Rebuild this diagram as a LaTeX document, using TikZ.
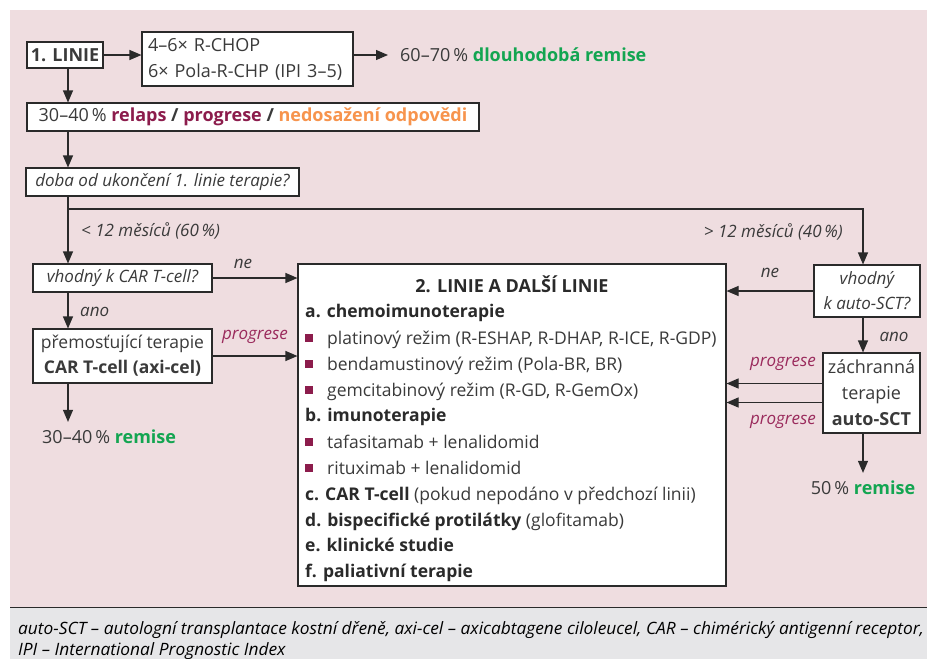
\documentclass[tikz,border=0pt]{standalone}
\usepackage{fontspec}
\setmainfont{Open Sans}
\usetikzlibrary{arrows.meta,calc}
\definecolor{bgpink}{HTML}{EFDDE0}
\definecolor{footgray}{HTML}{E6E6E8}
\definecolor{maroon}{HTML}{8C1C4C}
\definecolor{prog}{HTML}{9A2A5C}
\definecolor{orng}{HTML}{F7944D}
\definecolor{grn}{HTML}{13A551}
\definecolor{txt}{HTML}{3A3A3A}
\definecolor{foottxt}{HTML}{4A4A4A}
\definecolor{linec}{HTML}{2A2A2A}
\newcommand{\grn}[1]{\textcolor{grn}{\textbf{#1}}}
\newsavebox\footlineA
\newsavebox\footlineB
\begin{document}
\sbox\footlineA{\fontsize{17}{20}\selectfont\itshape auto-SCT – autologní transplantace kostní dřeně, axi-cel – axicabtagene ciloleucel, CAR – chimérický antigenní receptor,}%
\sbox\footlineB{\fontsize{17}{20}\selectfont\itshape IPI – International Prognostic Index}%
\pgfmathsetmacro\fsc{906/\wd\footlineA}%
\begin{tikzpicture}[x=1pt,y=-1pt,
  font=\fontsize{18}{25}\selectfont,
  box/.style={draw=linec, fill=white, line width=1.1pt, inner sep=0pt, text=txt, align=center},
  itbox/.style={box, font=\fontsize{17}{25}\selectfont\itshape},
  arr/.style={draw=linec, line width=1.1pt, -{Triangle[length=12pt,width=10pt]}},
  lbl/.style={inner sep=0pt, text=txt, font=\fontsize{17}{20}\selectfont\itshape},
  plbl/.style={inner sep=0pt, text=prog, font=\fontsize{17}{20}\selectfont\itshape},
  item/.style={anchor=base west, inner sep=0pt, text=txt, font=\fontsize{17.5}{20}\selectfont},
  bul/.style={fill=maroon, inner sep=0pt, minimum size=8pt},
  res/.style={inner sep=0pt, text=txt}]
\useasboundingbox (0,0) rectangle (927,659);
\fill[bgpink] (10,10) rectangle (927,607);
\fill[footgray] (10,607) rectangle (927,659);
\draw[linec, line width=1pt] (10,607) -- (927,607);

\coordinate (lx) at (68,0);
\coordinate (rx) at (863,0);

% first line
\node[box, minimum width=76pt, minimum height=26pt, font=\fontsize{18}{20}\selectfont\bfseries] (linie1) at (65,55) {1. LINIE};
\node[box, text width=199pt, inner xsep=6pt, minimum height=54pt, align=left, font=\fontsize{18}{26}\selectfont] (rchop) at (247.5,59) {4–6× R-CHOP\\6× Pola-R-CHP (IPI 3–5)};
\node[res, anchor=west] (rem1) at (400,55) {60–70\,\% \grn{dlouhodobá remise}};

\node[box, minimum width=452pt, minimum height=28pt] (relaps) at (253,117) {30–40\,\% \textcolor{maroon}{\textbf{relaps}} \textbf{/} \textcolor{maroon}{\textbf{progrese}} \textbf{/} \textcolor{orng}{\textbf{nedosažení odpovědi}}};

\node[itbox, minimum width=273pt, minimum height=28pt] (doba) at (162.5,182) {doba od ukončení 1. linie terapie?};

\node[itbox, minimum width=179pt, minimum height=28pt] (vcar) at (122.5,278) {vhodný k CAR T-cell?};

\node[box, minimum width=179pt, minimum height=54pt, font=\fontsize{17.5}{25}\selectfont] (prem) at (122.5,356) {přemosťující terapie\\\textbf{CAR T-cell (axi-cel)}};

\node[res, anchor=west] (rem2) at (42,437) {30–40\,\% \grn{remise}};

% right column
\node[itbox, minimum width=106pt, minimum height=52pt] (vauto) at (867,291) {vhodný\\k auto-SCT?};
\node[box, minimum width=97pt, minimum height=80pt, font=\fontsize{18}{26}\selectfont] (zach) at (871.5,393) {záchranná\\terapie\\\textbf{auto-SCT}};
\node[res] (rem3) at (863,488) {50\,\% \grn{remise}};

% big box
\node[box, minimum width=428pt, minimum height=322pt] (big) at (512,425) {};
\node[inner sep=0pt, text=linec, font=\fontsize{18}{20}\selectfont\bfseries, anchor=base] (t2) at (512,292) {2. LINIE A DALŠÍ LINIE};
\node[item, text=linec] (la) at (305,317) {\textbf{a. chemoimunoterapie}};
\node[bul] (b1) at (309,338) {};
\node[item] (l1) at (327,344) {platinový režim (R-ESHAP, R-DHAP, R-ICE, R-GDP)};
\node[bul] (b2) at (309,364) {};
\node[item] (l2) at (327,370) {bendamustinový režim (Pola-BR, BR)};
\node[bul] (b3) at (309,390) {};
\node[item] (l3) at (327,396) {gemcitabinový režim (R-GD, R-GemOx)};
\node[item, text=linec] (lb) at (305,421) {\textbf{b. imunoterapie}};
\node[bul] (b4) at (309,442) {};
\node[item] (l4) at (327,448) {tafasitamab + lenalidomid};
\node[bul] (b5) at (309,468) {};
\node[item] (l5) at (327,474) {rituximab + lenalidomid};
\node[item] (lc) at (305,500) {\textcolor{linec}{\textbf{c. CAR T-cell}} (pokud nepodáno v předchozí linii)};
\node[item] (ld) at (305,526) {\textcolor{linec}{\textbf{d. bispecifické protilátky}} (glofitamab)};
\node[item, text=linec] (le) at (305,551) {\textbf{e. klinické studie}};
\node[item, text=linec] (lf) at (305,577) {\textbf{f. paliativní terapie}};

% labels
\node[lbl, anchor=west] (lt12) at (81,231) {< 12 měsíců (60\,\%)};
\node[lbl, anchor=east] (gt12) at (843,232) {> 12 měsíců (40\,\%)};
\node[lbl] (ne1) at (243,264) {ne};
\node[lbl, anchor=west] (ano1) at (80,312) {ano};
\node[plbl] (pr1) at (255,337) {progrese};
\node[lbl] (ne2) at (770,273) {ne};
\node[lbl] (ano2) at (894,337) {ano};
\node[plbl] (pr2) at (783,364) {progrese};
\node[plbl] (pr3) at (783,422) {progrese};

% connectors
\draw[arr] (linie1.east) -- (linie1.east -| rchop.west);
\draw[arr, shorten >=12pt] (rem1.west -| rchop.east) -- (rem1.west);
\draw[arr] (linie1.south -| lx) -- (relaps.north -| lx);
\draw[arr] (relaps.south -| lx) -- (doba.north -| lx);
\draw[arr] (doba.south -| lx) -- (vcar.north -| lx);
\coordinate (br) at (68,209);
\draw[arr] (br) -- (br -| rx) -- (vauto.north -| rx);
\draw[arr] (vcar.south -| lx) -- (prem.north -| lx);
\draw[arr] (vcar.east) -- (vcar.east -| big.west);
\draw[arr] (prem.east) -- (prem.east -| big.west);
\draw[arr, shorten >=8pt] (prem.south -| lx) -- (rem2.north -| lx);
\draw[arr] (vauto.west) -- (vauto.west -| big.east);
\draw[arr] ([yshift=-9.5pt]zach.west) -- ([yshift=-9.5pt]zach.west -| big.east);
\draw[arr] ([yshift=9.5pt]zach.west) -- ([yshift=9.5pt]zach.west -| big.east);
\draw[arr] (vauto.south -| rx) -- (zach.north -| rx);
\draw[arr, shorten >=8pt] (zach.south -| rx) -- (rem3.north -| rx);

% footer
\node[inner sep=0pt, anchor=base west, text=foottxt] (fn1) at (18,634) {\scalebox{\fsc}[1]{\usebox\footlineA}};
\node[inner sep=0pt, anchor=base west, text=foottxt] (fn2) at (18,655) {\scalebox{\fsc}[1]{\usebox\footlineB}};
\end{tikzpicture}
\end{document}
